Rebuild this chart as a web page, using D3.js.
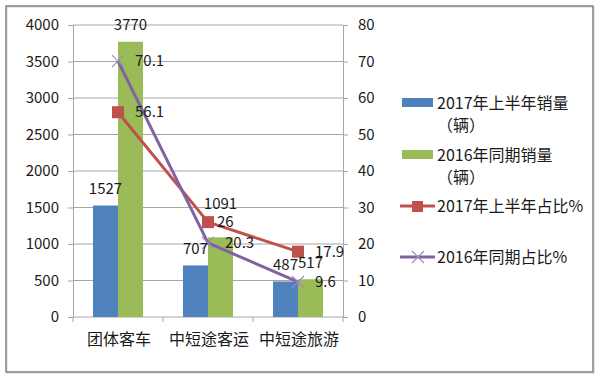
<!DOCTYPE html>
<html><head><meta charset="utf-8">
<script src="https://cdn.jsdelivr.net/npm/d3@7/dist/d3.min.js"></script>
<style>
body{margin:0;background:#fff;}
text{font-family:"Noto Sans CJK SC","Noto Sans",sans-serif;fill:#1a1a1a;}
</style></head>
<body><svg id="c" width="600" height="381"></svg>
<script>
const categories = ["团体客车","中短途客运","中短途旅游"];
const sales2017 = [1527, 707, 487];
const sales2016 = [3770, 1091, 517];
const share2017 = [56.1, 26, 17.9];
const share2016 = [70.1, 20.3, 9.6];
const leftTicks = [0,500,1000,1500,2000,2500,3000,3500,4000];
const rightTicks = [0,10,20,30,40,50,60,70,80];
const seriesNames = ["2017年上半年销量","2016年同期销量","2017年上半年占比%","2016年同期占比%"];
const unitLabel = "（辆）";

const colors = {blue:"#4F81BD", green:"#9BBB59", red:"#C0504D", purple:"#7F63A1", purpleMark:"#9C88C4", grid:"#A6A6A6"};
// extra label lift for crowded labels (index in sales2016)
const liftExtra2016 = [0, 17, 0];

const svg = d3.select("#c");
// outer frame
svg.append("rect").attr("x",7).attr("y",7).attr("width",587).attr("height",366)
  .attr("fill","none").attr("stroke","#d0d0d0").attr("stroke-width",1);
svg.append("rect").attr("x",6).attr("y",6).attr("width",587).attr("height",366)
  .attr("fill","none").attr("stroke","#8a8a8a").attr("stroke-width",1.6);

const L=73, R=343, T=25, B=317;
const x0 = d3.scaleBand().domain(categories).range([L,R]).paddingInner(0).paddingOuter(0);
const x1 = d3.scaleBand().domain(["a","b"]).range([20,70]);
const yL = d3.scaleLinear().domain([0,4000]).range([B,T]);
const yR = d3.scaleLinear().domain([0,80]).range([B,T]);

// gridlines
svg.append("g").selectAll("line").data(leftTicks.filter(d=>d>0)).join("line")
  .attr("x1",L).attr("x2",R).attr("y1",d=>yL(d)).attr("y2",d=>yL(d))
  .attr("stroke",colors.grid).attr("stroke-width",1);

// left axis
const gL = svg.append("g").attr("transform",`translate(${L},0)`)
  .call(d3.axisLeft(yL).tickValues(leftTicks).tickSize(5).tickPadding(9).tickFormat(d3.format("d")));
gL.selectAll("path,line").attr("stroke",colors.grid);
gL.selectAll("text").style("font-size","15px").attr("fill","#1a1a1a");

// right axis
const gR = svg.append("g").attr("transform",`translate(${R},0)`)
  .call(d3.axisRight(yR).tickValues(rightTicks).tickSize(5).tickPadding(10).tickFormat(d3.format("d")));
gR.selectAll("path,line").attr("stroke",colors.grid);
gR.selectAll("text").style("font-size","15px").attr("fill","#1a1a1a");

// bottom axis
const gB = svg.append("g").attr("transform",`translate(0,${B})`);
gB.append("line").attr("x1",L).attr("x2",R).attr("stroke",colors.grid);
gB.selectAll("line.t").data(d3.range(categories.length+1)).join("line").attr("class","t")
  .attr("x1",i=>L+i*x0.bandwidth()).attr("x2",i=>L+i*x0.bandwidth()).attr("y1",0).attr("y2",5)
  .attr("stroke",colors.grid);
gB.selectAll("text").data(categories).join("text")
  .attr("x",d=>x0(d)+x0.bandwidth()/2+1).attr("y",28).attr("text-anchor","middle")
  .style("font-size","16px").text(d=>d);

// bars
const barSeries = [{k:"a",vals:sales2017,color:colors.blue,lift:[0,0,0]},{k:"b",vals:sales2016,color:colors.green,lift:liftExtra2016}];
barSeries.forEach(s=>{
  svg.append("g").selectAll("rect").data(s.vals).join("rect")
    .attr("x",(d,i)=>x0(categories[i])+x1(s.k)).attr("width",x1.bandwidth())
    .attr("y",d=>yL(d)).attr("height",d=>B-yL(d)).attr("fill",s.color);
});

// lines
const lineGen = d3.line().x((d,i)=>x0(categories[i])+x0.bandwidth()/2).y(d=>yR(d));
svg.append("path").datum(share2017).attr("d",lineGen).attr("fill","none")
  .attr("stroke",colors.red).attr("stroke-width",3).attr("stroke-linejoin","round");
svg.append("path").datum(share2016).attr("d",lineGen).attr("fill","none")
  .attr("stroke",colors.purple).attr("stroke-width",3).attr("stroke-linejoin","round");
// markers
svg.append("g").selectAll("rect").data(share2017).join("rect")
  .attr("x",(d,i)=>x0(categories[i])+x0.bandwidth()/2-6).attr("y",d=>yR(d)-6)
  .attr("width",12).attr("height",12).attr("fill",colors.red);
const xm = svg.append("g").selectAll("g").data(share2016).join("g")
  .attr("transform",(d,i)=>`translate(${x0(categories[i])+x0.bandwidth()/2},${yR(d)})`);
xm.append("path").attr("d","M-6,-6L6,6M-6,6L6,-6").attr("stroke",colors.purpleMark).attr("stroke-width",1.2);

// bar labels
barSeries.forEach(s=>{
  svg.append("g").selectAll("text").data(s.vals).join("text")
    .attr("x",(d,i)=>x0(categories[i])+x1(s.k)+x1.bandwidth()/2)
    .attr("y",(d,i)=>yL(d)-17-s.lift[i]).attr("dy","0.35em").attr("text-anchor","middle")
    .style("font-size","15px").text(d=>d);
});
// line labels
[share2017,share2016].forEach(arr=>{
  svg.append("g").selectAll("text").data(arr).join("text")
    .attr("x",(d,i)=>x0(categories[i])+x0.bandwidth()/2+(String(d).length>2?17:9))
    .attr("y",d=>yR(d)).attr("dy","0.35em")
    .style("font-size","15px").text(d=>d);
});

// legend
const lg = svg.append("g");
const lx = 402, tx = 437;
lg.append("rect").attr("x",lx).attr("y",98).attr("width",31).attr("height",9).attr("fill",colors.blue);
lg.append("text").attr("x",tx).attr("y",103).attr("dy","0.35em").style("font-size","16px").text(seriesNames[0]);
lg.append("text").attr("x",tx).attr("y",125).attr("dy","0.35em").style("font-size","16px").text(unitLabel);
lg.append("rect").attr("x",lx).attr("y",150).attr("width",31).attr("height",9).attr("fill",colors.green);
lg.append("text").attr("x",tx).attr("y",155).attr("dy","0.35em").style("font-size","16px").text(seriesNames[1]);
lg.append("text").attr("x",tx).attr("y",177).attr("dy","0.35em").style("font-size","16px").text(unitLabel);
lg.append("line").attr("x1",lx-2).attr("x2",lx+33).attr("y1",206).attr("y2",206).attr("stroke",colors.red).attr("stroke-width",3);
lg.append("rect").attr("x",lx+10).attr("y",201).attr("width",11).attr("height",11).attr("fill",colors.red);
lg.append("text").attr("x",tx).attr("y",206).attr("dy","0.35em").style("font-size","16px").text(seriesNames[2]);
lg.append("line").attr("x1",lx-2).attr("x2",lx+33).attr("y1",257).attr("y2",257).attr("stroke",colors.purple).attr("stroke-width",3);
lg.append("path").attr("d",`M${lx+10},251L${lx+22},263M${lx+10},263L${lx+22},251`).attr("stroke",colors.purpleMark).attr("stroke-width",1.2);
lg.append("text").attr("x",tx).attr("y",257).attr("dy","0.35em").style("font-size","16px").text(seriesNames[3]);
</script></body></html>
